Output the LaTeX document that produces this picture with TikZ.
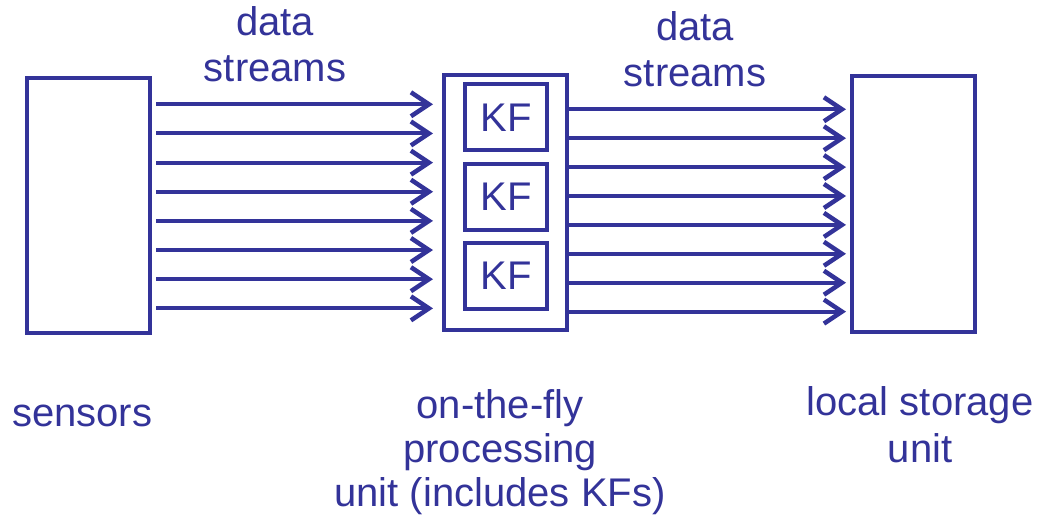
\documentclass[tikz,border=0pt]{standalone}
\usepackage{fontspec}
\setmainfont{Liberation Sans}
\usetikzlibrary{arrows.meta}
\definecolor{dblue}{RGB}{51,51,153}
\begin{document}
\begin{tikzpicture}[x=1pt,y=-1pt,
  box/.style={draw=dblue,line width=4pt,inner sep=0pt,outer sep=0pt,rectangle},
  flow/.style={draw=dblue,line width=4pt,-{Straight Barb[length=18pt,width=24pt,line width=4.5pt]}},
  lbl/.style={text=dblue,font=\fontsize{40}{46}\selectfont,inner sep=0pt,align=center},
  kf/.style={box,minimum width=82pt,minimum height=66pt,text=dblue,font=\fontsize{40}{46}\selectfont}]
\useasboundingbox (0,0) rectangle (1040,529);
\node[box,minimum width=123pt,minimum height=255pt] (sensors) at (88.5,205.5) {};
\node[box,minimum width=123pt,minimum height=255pt] (proc) at (505.5,202.5) {};
\node[box,minimum width=123pt,minimum height=256pt] (store) at (913.5,204) {};
\node[kf] (kf1) at (506,117.5) {KF};
\node[kf] (kf2) at (506,197) {KF};
\node[kf] (kf3) at (506,275.5) {KF};
\foreach \i in {0,...,7}{
  \pgfmathsetmacro\yy{104.3+29.15*\i}
  \draw[flow,shorten <=6pt,shorten >=11pt] (sensors.east |- 0,\yy) -- (proc.west |- 0,\yy);
  \pgfmathsetmacro\yr{109.3+28.9*\i}
  \draw[flow,shorten >=6pt] (proc.east |- 0,\yr) -- (store.west |- 0,\yr);
}
\node[lbl,anchor=base] (ds1) at (275,82) {data\\streams};
\node[lbl,anchor=base] (ds2) at (695,86.7) {data\\streams};
\node[lbl,anchor=base west] (lsens) at (12,426) {sensors};
\node[lbl,anchor=base,font=\fontsize{40}{44}\selectfont] (lproc) at (500,506) {on-the-fly\\processing\\unit (includes KFs)};
\node[lbl,anchor=base,font=\fontsize{40}{47}\selectfont] (lstore) at (920,462) {local storage\\unit};
\end{tikzpicture}
\end{document}
